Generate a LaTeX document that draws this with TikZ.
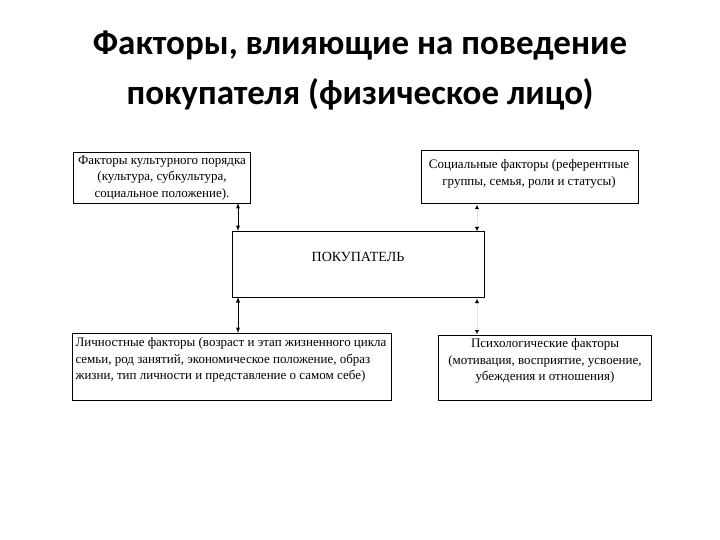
\documentclass[tikz,border=0pt]{standalone}
\usepackage{fontspec}
\usetikzlibrary{arrows.meta}
\setmainfont{Liberation Serif}
\newfontfamily\titlefont{Carlito}
\begin{document}
\begin{tikzpicture}[x=1pt,y=-1pt,
  box/.style={draw,line width=0.8pt,inner sep=0pt,anchor=north west},
  txt/.style={font=\fontsize{13}{16.5}\selectfont,align=center},
  arr/.style={<->,>=latex,line width=0.9pt},
  farr/.style={{Latex[color=black,length=4pt,width=4pt]}-{Latex[color=black,length=4pt,width=4pt]},line width=0.3pt,draw=black!12}]
\useasboundingbox (0,0) rectangle (720,540);
\node[font=\titlefont\bfseries\fontsize{35}{50}\selectfont,align=center] (title) at (360,70) {Факторы, влияющие на поведение\\покупателя (физическое лицо)};
\node[box,minimum width=177pt,minimum height=51pt] (b1) at (73,152) {};
\node[txt,anchor=north] (t1) at (162,152) {Факторы культурного порядка\\(культура, субкультура,\\социальное положение).};
\node[box,minimum width=217pt,minimum height=53pt] (b2) at (421,150) {};
\node[txt,anchor=north] (t2) at (529,156) {Социальные факторы (референтные\\группы, семья, роли и статусы)};
\node[box,minimum width=252pt,minimum height=66pt] (c) at (232,231) {};
\node[font=\fontsize{14}{15}\selectfont] (ct) at (358,257) {ПОКУПАТЕЛЬ};
\node[box,minimum width=319pt,minimum height=67pt] (b3) at (72,333) {};
\node[txt,anchor=north west,align=left] (t3) at (72,334) {Личностные факторы (возраст и этап жизненного цикла\\семьи, род занятий, экономическое положение, образ\\жизни, тип личности и представление о самом себе)};
\node[box,minimum width=213pt,minimum height=65pt] (b4) at (438,335) {};
\node[txt,anchor=north] (t4) at (545,335) {Психологические факторы\\(мотивация, восприятие, усвоение,\\убеждения и отношения)};
\coordinate (p1) at (238,203); \coordinate (p2) at (238,231);
\coordinate (p3) at (238,297); \coordinate (p4) at (238,333);
\coordinate (q1) at (477,205); \coordinate (q2) at (477,231);
\coordinate (q3) at (477,299); \coordinate (q4) at (477,334);
\draw[arr] (p1) -- (p2);
\draw[arr] (p3) -- (p4);
\draw[farr] (q1) -- (q2);
\draw[farr] (q3) -- (q4);
\end{tikzpicture}
\end{document}
